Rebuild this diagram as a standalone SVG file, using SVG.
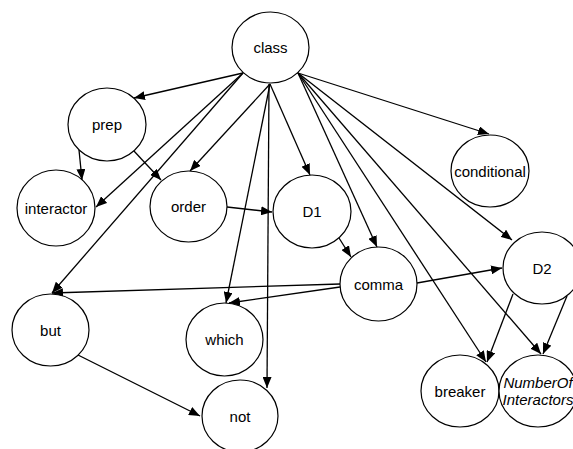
<svg xmlns="http://www.w3.org/2000/svg" width="573" height="449" viewBox="0 0 573 449">
<style>
.n ellipse{fill:#fff;stroke:#000;stroke-width:1.2}
.n text{font-family:"Liberation Sans",Arial,sans-serif;font-size:15px;fill:#000;text-anchor:middle}
#edges line{stroke:#000;stroke-width:1.3;marker-end:url(#ah)}
</style>
<defs>
<marker id="ah" markerUnits="userSpaceOnUse" markerWidth="11" markerHeight="9" refX="11" refY="4.5" orient="auto"><path d="M0,0 L11,4.5 L0,9 z" fill="#000"/></marker>
<clipPath id="cNum"><ellipse cx="538" cy="391" rx="39" ry="36"/></clipPath>
</defs>
<rect width="573" height="449" fill="#fff"/>
<g id="edges">
<line x1="243" y1="73" x2="134" y2="98"/>
<line x1="243" y1="73" x2="96" y2="207"/>
<line x1="243" y1="73" x2="52" y2="293"/>
<line x1="270" y1="84" x2="190" y2="171"/>
<line x1="270" y1="84" x2="226" y2="303"/>
<line x1="269" y1="84" x2="267" y2="388"/>
<line x1="270" y1="84" x2="310" y2="175"/>
<line x1="298" y1="73" x2="377" y2="247"/>
<line x1="298" y1="73" x2="489" y2="134"/>
<line x1="298" y1="73" x2="512" y2="240"/>
<line x1="298" y1="73" x2="486" y2="362"/>
<line x1="298" y1="73" x2="541" y2="354"/>
<line x1="79" y1="150" x2="82" y2="180"/>
<line x1="133" y1="150" x2="161" y2="180"/>
<line x1="227" y1="207" x2="272" y2="212"/>
<line x1="339" y1="238" x2="351" y2="257"/>
<line x1="417" y1="283" x2="502" y2="268"/>
<line x1="340" y1="284" x2="52" y2="293"/>
<line x1="340" y1="287" x2="229" y2="303"/>
<line x1="513" y1="294" x2="487" y2="362"/>
<line x1="567" y1="296" x2="543" y2="354"/>
<line x1="78" y1="355" x2="200" y2="416"/>
</g>
<g id="class" class="n"><ellipse cx="270.5" cy="47.5" rx="38.5" ry="35.5"/><text x="270.5" y="53">class</text></g>
<g id="prep" class="n"><ellipse cx="107" cy="124.5" rx="39" ry="36.5"/><text x="107" y="130">prep</text></g>
<g id="interactor" class="n"><ellipse cx="56" cy="208" rx="39" ry="38"/><text x="56" y="213.5">interactor</text></g>
<g id="order" class="n"><ellipse cx="188.5" cy="206.5" rx="38.5" ry="35.5"/><text x="188.5" y="212">order</text></g>
<g id="D1" class="n"><ellipse cx="312" cy="211.5" rx="39" ry="36.5"/><text x="312" y="217">D1</text></g>
<g id="conditional" class="n"><ellipse cx="490" cy="171" rx="39" ry="36"/><text x="490" y="176.5">conditional</text></g>
<g id="comma" class="n"><ellipse cx="378.5" cy="284" rx="38.5" ry="37"/><text x="378.5" y="289.5">comma</text></g>
<g id="D2" class="n"><ellipse cx="542" cy="268" rx="39" ry="36"/><text x="542" y="273.5">D2</text></g>
<g id="but" class="n"><ellipse cx="50.5" cy="330" rx="38.5" ry="36"/><text x="50.5" y="335.5">but</text></g>
<g id="which" class="n"><ellipse cx="224.5" cy="339.5" rx="38.5" ry="36.5"/><text x="224.5" y="345">which</text></g>
<g id="not" class="n"><ellipse cx="240" cy="416" rx="38" ry="36"/><text x="240" y="421.5">not</text></g>
<g id="breaker" class="n"><ellipse cx="460" cy="391" rx="39" ry="36"/><text x="460" y="396.5">breaker</text></g>
<g id="NumberOfInteractors" class="n"><ellipse cx="538" cy="391" rx="39" ry="36"/><g clip-path="url(#cNum)"><text x="538" y="388" font-style="italic">NumberOf</text><text x="538" y="405" font-style="italic">Interactors</text></g></g>
</svg>
